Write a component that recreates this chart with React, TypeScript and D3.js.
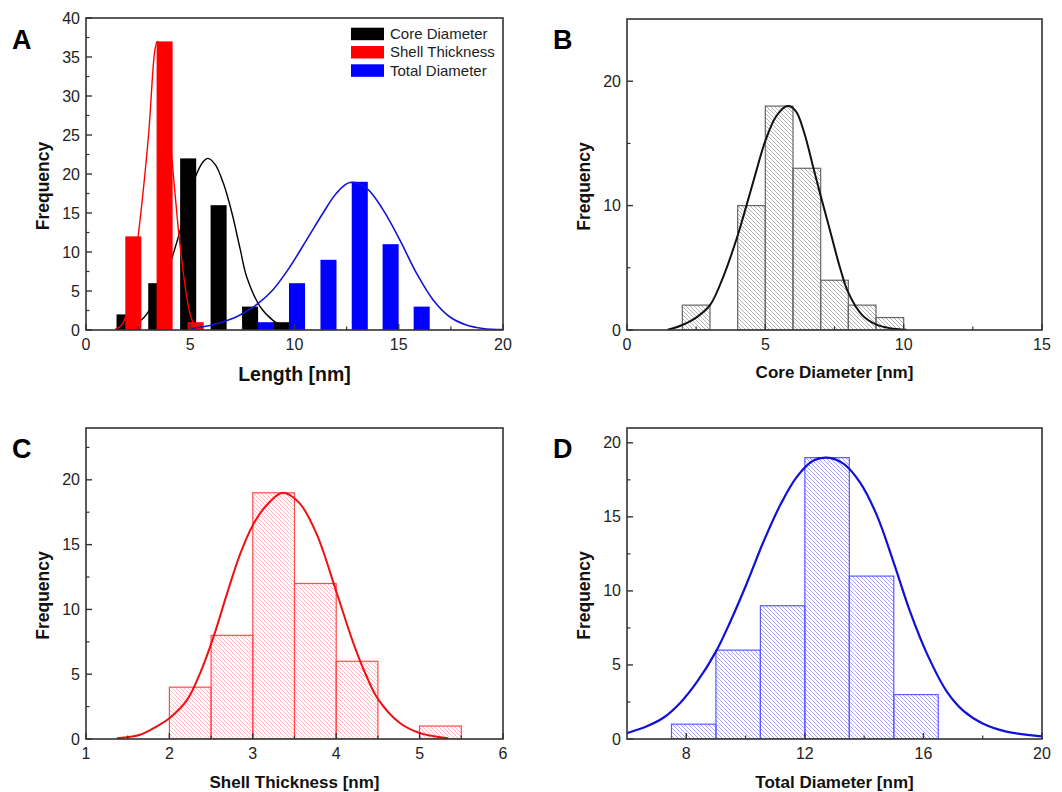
import React from 'react';
import * as d3 from 'd3';

// ---- Panel A: overlaid histograms (bin centres, nm) ----
const coreA_x = [1.85, 3.37, 4.9, 6.36, 7.87, 9.36];
const coreA_n = [2, 6, 22, 16, 3, 1];
const shellA_x = [2.27, 3.77, 5.26];
const shellA_n = [12, 37, 1];
const totalA_x = [8.62, 10.12, 11.63, 13.13, 14.61, 16.1];
const totalA_n = [1, 6, 9, 19, 11, 3];
const barWidthA = 0.77;

// fitted curves in panel A
const coreFitA: [number, number][] = [
  [1.6, 0.05], [2.2, 0.5], [2.67, 1.3], [3.15, 3.0], [3.7, 6.0], [4.27, 10.5], [4.67, 14.3],
  [5.2, 19.3], [5.6, 21.5], [5.85, 22], [6.2, 21.2], [6.59, 18.8], [7.0, 15], [7.4, 10.3],
  [7.71, 6.8], [8.35, 3.0], [8.98, 1.2], [9.4, 0.5], [9.9, 0.1],
];
const shellFitA: [number, number][] = [
  [1.4, 0.1], [1.7, 0.6], [2.0, 2.6], [2.5, 12], [3.0, 25], [3.3, 35.8], [3.42, 37],
  [3.6, 35.5], [3.9, 28.5], [4.27, 17.5], [4.5, 11.1], [4.83, 4.3], [5.0, 2.0], [5.2, 0.6], [5.4, 0.1],
];
const totalFitA: [number, number][] = [
  [5.06, 0.2], [6.0, 0.6], [7.06, 1.5], [7.7, 2.4], [8.26, 3.4], [8.98, 5.2], [9.78, 8.1],
  [10.58, 11.55], [11.37, 15.0], [12.0, 17.5], [12.65, 18.9], [13.45, 18.2], [14.25, 15.4],
  [15.05, 11.55], [15.85, 7.3], [16.65, 3.85], [17.44, 1.7], [18.24, 0.64], [19.04, 0.2], [20, 0.05],
];

// ---- Panel B: core diameter ----
const coreBins = [2, 3, 4, 5, 6, 7, 8, 9];
const coreCounts = [2, 0, 10, 18, 13, 4, 2, 1];
const coreBinW = 1;
const coreFit: [number, number][] = [
  [1.47, 0.02], [2.0, 0.4], [2.5, 1.0], [3.0, 2.0], [3.5, 4.4], [4.0, 7.6], [4.33, 10.1],
  [4.65, 12.6], [5.0, 15.2], [5.4, 17.2], [5.8, 18.0], [6.1, 17.6], [6.4, 15.9], [6.74, 13.0],
  [7.0, 10.8], [7.35, 7.9], [7.7, 5.0], [8.0, 3.0], [8.5, 1.2], [9.0, 0.45], [9.5, 0.15], [10.1, 0.02],
];

// ---- Panel C: shell thickness ----
const shellBins = [2, 2.5, 3, 3.5, 4, 4.5, 5];
const shellCounts = [4, 8, 19, 12, 6, 0, 1];
const shellBinW = 0.5;
const shellFit: [number, number][] = [
  [1.37, 0.05], [1.65, 0.33], [1.85, 0.98], [2.0, 1.6], [2.21, 3.0], [2.37, 5.1], [2.53, 7.9],
  [2.69, 11.2], [2.85, 14.3], [3.0, 16.5], [3.16, 18.0], [3.36, 19.0], [3.56, 18.2], [3.76, 15.9],
  [4.0, 11.4], [4.2, 7.5], [4.36, 4.9], [4.5, 3.1], [4.76, 1.25], [5.0, 0.46], [5.34, 0.05],
];

// ---- Panel D: total diameter ----
const totalBins = [7.5, 9, 10.5, 12, 13.5, 15];
const totalCounts = [1, 6, 9, 19, 11, 3];
const totalBinW = 1.5;
const totalFit: [number, number][] = [
  [6.0, 0.4], [6.67, 0.86], [7.24, 1.45], [7.8, 2.45], [8.36, 3.85], [9.0, 5.9], [9.48, 7.9],
  [10.04, 10.5], [10.6, 13.3], [11.17, 15.8], [11.73, 17.7], [12.29, 18.8], [12.74, 19.0],
  [13.3, 18.6], [13.87, 17.3], [14.43, 15.1], [15.0, 11.9], [15.55, 8.6], [16.11, 5.8],
  [16.79, 3.2], [17.35, 1.9], [18.0, 1.05], [18.8, 0.5], [20.0, 0.18],
];

const legendA = ['Core Diameter', 'Shell Thickness', 'Total Diameter'];

const FONT = '"Liberation Sans", Arial, sans-serif';
const AXIS = '#333';

type Scale = d3.ScaleLinear<number, number>;

type PanelProps = {
  id: string;
  left: number; top: number; right: number; bottom: number;
  xDomain: [number, number]; yDomain: [number, number];
  xMajor: number[]; xMinor: number[]; yMajor: number[]; yMinor: number[];
  xTitle: string; xTitleSize: number; xTitleDy: number;
  letter: string; letterX: number; letterY: number;
  children: (x: Scale, y: Scale) => React.ReactNode;
};

function Panel(p: PanelProps) {
  const x = d3.scaleLinear().domain(p.xDomain).range([p.left, p.right]);
  const y = d3.scaleLinear().domain(p.yDomain).range([p.bottom, p.top]);
  return (
    <g>
      <clipPath id={'clip-' + p.id}>
        <rect x={p.left} y={p.top} width={p.right - p.left} height={p.bottom - p.top} />
      </clipPath>
      <g clipPath={`url(#clip-${p.id})`}>{p.children(x, y)}</g>
      <rect x={p.left} y={p.top} width={p.right - p.left} height={p.bottom - p.top}
        fill="none" stroke={AXIS} strokeWidth={1.6} />
      {p.xMajor.map(t => (
        <g key={'xM' + t}>
          <line x1={x(t)} x2={x(t)} y1={p.bottom} y2={p.bottom - 6} stroke={AXIS} strokeWidth={1.4} />
          <text x={x(t)} y={p.bottom + 20} textAnchor="middle" fontSize={16} fill="#222">{t}</text>
        </g>
      ))}
      {p.xMinor.map(t => (
        <line key={'xm' + t} x1={x(t)} x2={x(t)} y1={p.bottom} y2={p.bottom - 3.5} stroke={AXIS} strokeWidth={1.2} />
      ))}
      {p.yMajor.map(t => (
        <g key={'yM' + t}>
          <line x1={p.left} x2={p.left + 6} y1={y(t)} y2={y(t)} stroke={AXIS} strokeWidth={1.4} />
          <text x={p.left - 6} y={y(t) + 5.5} textAnchor="end" fontSize={16} fill="#222">{t}</text>
        </g>
      ))}
      {p.yMinor.map(t => (
        <line key={'ym' + t} x1={p.left} x2={p.left + 3.5} y1={y(t)} y2={y(t)} stroke={AXIS} strokeWidth={1.2} />
      ))}
      <text x={(p.left + p.right) / 2} y={p.bottom + p.xTitleDy} textAnchor="middle"
        fontSize={p.xTitleSize} fontWeight="bold" fill="#111">{p.xTitle}</text>
      <text transform={`translate(${p.left - 37},${(p.top + p.bottom) / 2 + 12}) rotate(-90)`}
        textAnchor="middle" fontSize={17.5} fontWeight="bold" fill="#111">Frequency</text>
      <text x={p.letterX} y={p.letterY} fontSize={27} fontWeight="bold" fill="#000">{p.letter}</text>
    </g>
  );
}

function fitPath(x: Scale, y: Scale, pts: [number, number][]) {
  return d3.line<[number, number]>()
    .x(d => x(d[0]))
    .y(d => y(d[1]))
    .curve(d3.curveCatmullRom.alpha(0.5))(pts) || '';
}

function Hist(props: { x: Scale; y: Scale; bins: number[]; counts: number[]; bw: number; fill: string; stroke: string }) {
  const { x, y, bins, counts, bw } = props;
  return (
    <g>
      {bins.map((b, i) => counts[i] > 0 ? (
        <rect key={i} x={x(b)} y={y(counts[i])} width={x(b + bw) - x(b)} height={y(0) - y(counts[i])}
          fill={props.fill} stroke={props.stroke} strokeWidth={1.2} />
      ) : null)}
    </g>
  );
}

function Bars(props: { x: Scale; y: Scale; xs: number[]; ns: number[]; color: string }) {
  const { x, y } = props;
  return (
    <g>
      {props.xs.map((c, i) => (
        <rect key={i} x={x(c - barWidthA / 2)} y={y(props.ns[i])}
          width={x(c + barWidthA / 2) - x(c - barWidthA / 2)} height={y(0) - y(props.ns[i])}
          fill={props.color} />
      ))}
    </g>
  );
}

export default function App() {
  const legendColors = ['#000000', '#ff0000', '#0000ff'];
  return (
    <svg width={1062} height={792} style={{ position: 'absolute', left: 0, top: 0, background: '#fff' }}
      fontFamily={FONT}>
      <defs>
        <pattern id="hatch-gray" patternUnits="userSpaceOnUse" width={4} height={4}>
          <path d="M-1,-1 L5,5 M-1,3 L1,5 M3,-1 L5,1" stroke="#a0a0a0" strokeWidth={0.8} />
        </pattern>
        <pattern id="hatch-red" patternUnits="userSpaceOnUse" width={4} height={4}>
          <path d="M-1,-1 L5,5 M-1,3 L1,5 M3,-1 L5,1" stroke="#f7a8a8" strokeWidth={0.8} />
        </pattern>
        <pattern id="hatch-blue" patternUnits="userSpaceOnUse" width={4} height={4}>
          <path d="M-1,-1 L5,5 M-1,3 L1,5 M3,-1 L5,1" stroke="#9090ec" strokeWidth={0.8} />
        </pattern>
      </defs>

      {/* A */}
      <Panel id="A" left={86} top={18} right={503} bottom={330}
        xDomain={[0, 20]} yDomain={[0, 40]}
        xMajor={[0, 5, 10, 15, 20]} xMinor={[2.5, 7.5, 12.5, 17.5]}
        yMajor={d3.range(0, 41, 5)} yMinor={d3.range(2.5, 40, 5)}
        xTitle="Length [nm]" xTitleSize={19.5} xTitleDy={51}
        letter="A" letterX={12} letterY={49}>
        {(x, y) => (
          <g>
            <Bars x={x} y={y} xs={coreA_x} ns={coreA_n} color="#000" />
            <path d={fitPath(x, y, coreFitA)} fill="none" stroke="#000" strokeWidth={1.4} />
            <Bars x={x} y={y} xs={shellA_x} ns={shellA_n} color="#ff0000" />
            <path d={fitPath(x, y, shellFitA)} fill="none" stroke="#ff0000" strokeWidth={1.4} />
            <Bars x={x} y={y} xs={totalA_x} ns={totalA_n} color="#0000ff" />
            <path d={fitPath(x, y, totalFitA)} fill="none" stroke="#1414d8" strokeWidth={1.6} />
          </g>
        )}
      </Panel>
      {legendA.map((name, i) => (
        <g key={name}>
          <rect x={351} y={27.7 + i * 18.3} width={33} height={12.5} fill={legendColors[i]} />
          <text x={390} y={38.5 + i * 18.5} fontSize={15} fill="#222">{name}</text>
        </g>
      ))}

      {/* B */}
      <Panel id="B" left={627} top={19} right={1042} bottom={330}
        xDomain={[0, 15]} yDomain={[0, 25]}
        xMajor={[0, 5, 10, 15]} xMinor={[2.5, 7.5, 12.5]}
        yMajor={[0, 10, 20]} yMinor={[5, 15]}
        xTitle="Core Diameter [nm]" xTitleSize={17} xTitleDy={48}
        letter="B" letterX={553} letterY={49}>
        {(x, y) => (
          <g>
            <Hist x={x} y={y} bins={coreBins} counts={coreCounts} bw={coreBinW} fill="url(#hatch-gray)" stroke="#666" />
            <path d={fitPath(x, y, coreFit)} fill="none" stroke="#111" strokeWidth={2} />
          </g>
        )}
      </Panel>

      {/* C */}
      <Panel id="C" left={86} top={428} right={503} bottom={739}
        xDomain={[1, 6]} yDomain={[0, 24]}
        xMajor={[1, 2, 3, 4, 5, 6]} xMinor={[1.5, 2.5, 3.5, 4.5, 5.5]}
        yMajor={[0, 5, 10, 15, 20]} yMinor={[2.5, 7.5, 12.5, 17.5, 22.5]}
        xTitle="Shell Thickness [nm]" xTitleSize={17} xTitleDy={49}
        letter="C" letterX={12} letterY={458}>
        {(x, y) => (
          <g>
            <Hist x={x} y={y} bins={shellBins} counts={shellCounts} bw={shellBinW} fill="url(#hatch-red)" stroke="#ff4a4a" />
            <path d={fitPath(x, y, shellFit)} fill="none" stroke="#ee1111" strokeWidth={2} />
          </g>
        )}
      </Panel>

      {/* D */}
      <Panel id="D" left={627} top={428} right={1042} bottom={739}
        xDomain={[6, 20]} yDomain={[0, 21]}
        xMajor={[8, 12, 16, 20]} xMinor={[10, 14, 18]}
        yMajor={[0, 5, 10, 15, 20]} yMinor={[2.5, 7.5, 12.5, 17.5]}
        xTitle="Total Diameter [nm]" xTitleSize={17} xTitleDy={49}
        letter="D" letterX={553} letterY={458}>
        {(x, y) => (
          <g>
            <Hist x={x} y={y} bins={totalBins} counts={totalCounts} bw={totalBinW} fill="url(#hatch-blue)" stroke="#5a5aff" />
            <path d={fitPath(x, y, totalFit)} fill="none" stroke="#1010d8" strokeWidth={2.2} />
          </g>
        )}
      </Panel>
    </svg>
  );
}
